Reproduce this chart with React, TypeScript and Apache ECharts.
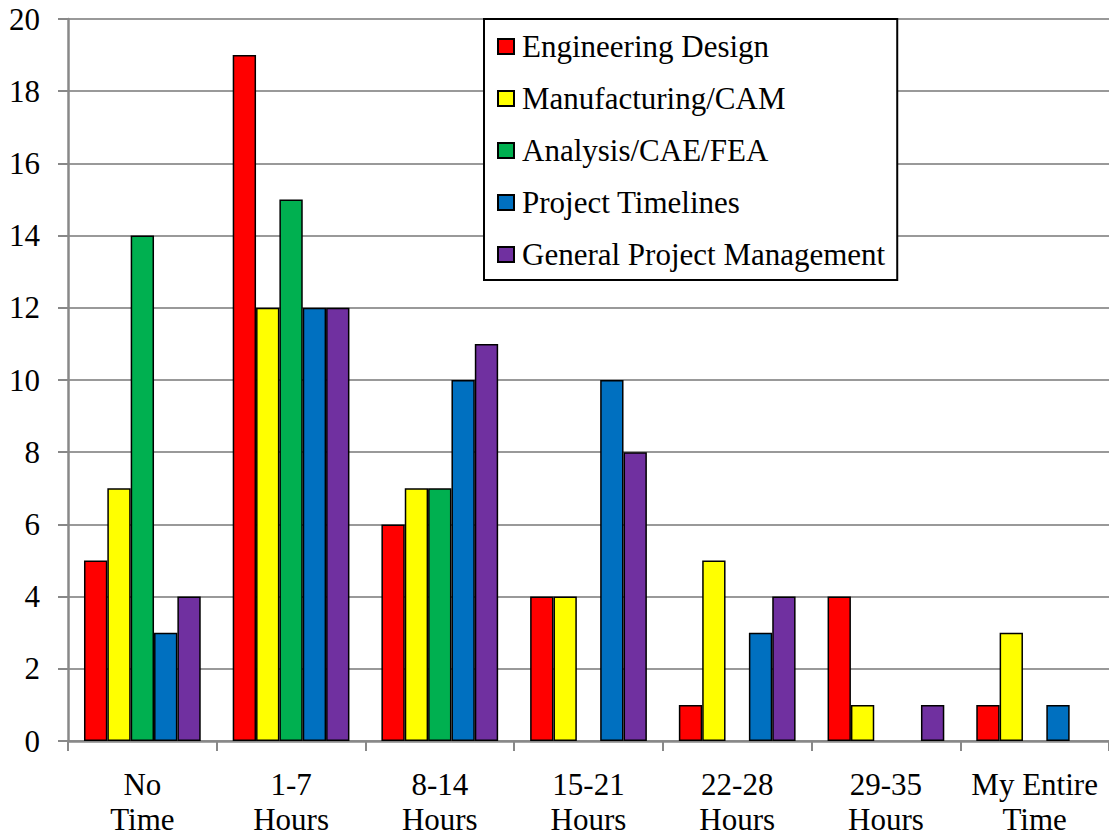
import React, { useEffect, useRef } from "react";
import * as echarts from "echarts";

// Hours per week spent on each activity: number of respondents
const categories = [
  "No\nTime",
  "1-7\nHours",
  "8-14\nHours",
  "15-21\nHours",
  "22-28\nHours",
  "29-35\nHours",
  "My Entire\nTime",
];

const seriesNames = [
  "Engineering Design",
  "Manufacturing/CAM",
  "Analysis/CAE/FEA",
  "Project Timelines",
  "General Project Management",
];

const engineeringDesign = [5, 19, 6, 4, 1, 4, 1];
const manufacturingCam = [7, 12, 7, 4, 5, 1, 3];
const analysisCaeFea = [14, 15, 7, 0, 0, 0, 0];
const projectTimelines = [3, 12, 10, 10, 3, 0, 1];
const generalProjectManagement = [4, 12, 11, 8, 4, 1, 0];

const seriesValues = [
  engineeringDesign,
  manufacturingCam,
  analysisCaeFea,
  projectTimelines,
  generalProjectManagement,
];

const seriesColors = ["#FF0000", "#FFFF00", "#00B050", "#0070C0", "#7030A0"];

const yTicks = { min: 0, max: 20, interval: 2 };

const FONT = "Liberation Serif";

// serif text style shared by all labels
const serifText = {
  fontFamily: FONT,
  fontSize: 31,
  fontWeight: "normal" as const,
  fontStyle: "normal" as const,
  color: "#000",
};

// forces the serif face onto every SVG text the chart draws
const chartCss = `
#hours-chart svg text, #hours-chart svg tspan {
  font-family: "Liberation Serif", "Times New Roman", serif !important;
}
`;

export default function App() {
  const ref = useRef<HTMLDivElement>(null);

  useEffect(() => {
    if (!ref.current) return;
    const chart = echarts.init(ref.current, null, { renderer: "svg" });

    const series = seriesNames.map((name, i) => ({
      name,
      type: "bar" as const,
      // empty counts draw no bar at all
      data: seriesValues[i].map((v) => (v === 0 ? null : v)),
      barGap: "0%",
      barCategoryGap: "21.5%",
      itemStyle: {
        color: seriesColors[i],
        borderColor: "#000",
        borderWidth: 1.5,
      },
    }));

    chart.setOption({
      animation: false,
      backgroundColor: "#fff",
      textStyle: { fontFamily: FONT },
      grid: { left: 68, top: 19, width: 1048, height: 722, containLabel: false },
      legend: {
        orient: "vertical",
        left: 484,
        top: 19,
        backgroundColor: "#fff",
        borderColor: "#000",
        borderWidth: 2,
        borderRadius: 0,
        padding: [12, 12, 10, 13],
        itemGap: 21,
        itemWidth: 16,
        itemHeight: 15,
        icon: "rect",
        data: seriesNames,
        textStyle: {
          ...serifText,
          padding: [0, 0, 0, 3],
        },
      },
      xAxis: {
        type: "category",
        data: categories,
        boundaryGap: true,
        axisLine: { lineStyle: { color: "#888", width: 2.5 } },
        axisTick: {
          show: true,
          length: 10,
          alignWithLabel: false,
          lineStyle: { color: "#888", width: 2 },
        },
        axisLabel: {
          ...serifText,
          lineHeight: 35,
          margin: 26,
          interval: 0,
        },
      },
      yAxis: {
        type: "value",
        min: yTicks.min,
        max: yTicks.max,
        interval: yTicks.interval,
        axisLine: { show: true, lineStyle: { color: "#888", width: 2.5 } },
        axisTick: { show: true, length: 10, lineStyle: { color: "#888", width: 2 } },
        splitLine: { show: true, lineStyle: { color: "#999", width: 2 } },
        axisLabel: {
          ...serifText,
          margin: 28,
        },
      },
      series,
    });

    return () => chart.dispose();
  }, []);

  return (
    <>
      <style>{chartCss}</style>
      <div
        id="hours-chart"
        ref={ref}
        style={{ position: "absolute", left: 0, top: 0, width: 1109, height: 840, background: "#fff" }}
      />
    </>
  );
}
